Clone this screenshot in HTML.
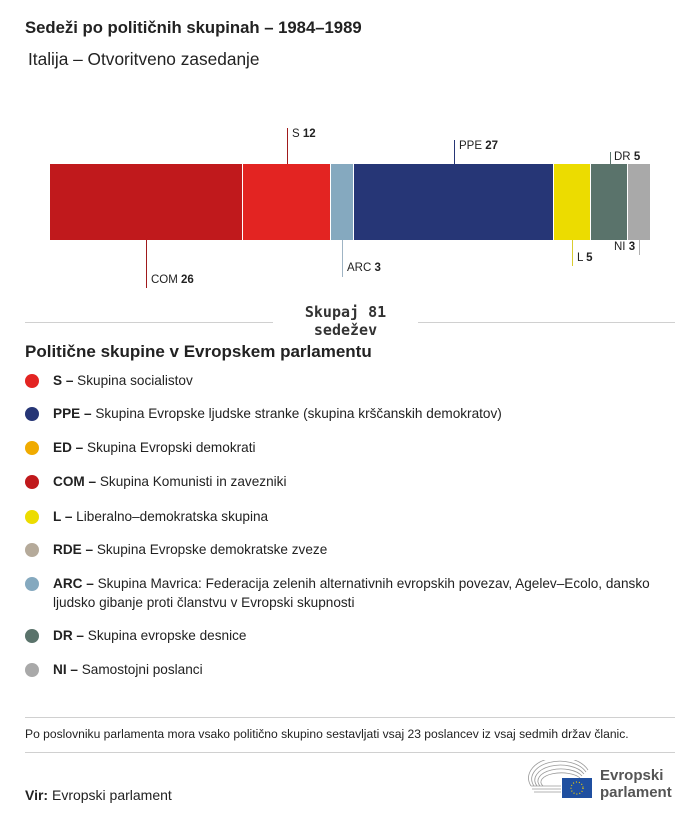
<!DOCTYPE html>
<html>
<head>
<meta charset="utf-8">
<style>
  html,body{margin:0;padding:0;background:#fff;}
  body{width:700px;height:820px;position:relative;overflow:hidden;font-family:"Liberation Sans","DejaVu Sans",sans-serif;color:#222;}
  .abs{position:absolute;white-space:nowrap;}
  .seg{position:absolute;top:164px;height:76px;}
  .vl{position:absolute;width:1px;}
  .lbl{position:absolute;font-size:11.5px;color:#222;white-space:nowrap;line-height:12px;}
  .lbl b{font-weight:bold;}
  .dot{position:absolute;left:25px;width:14px;height:14px;border-radius:50%;}
  .lt{position:absolute;left:53px;font-size:13.6px;line-height:19px;color:#222;white-space:nowrap;}
  .lt b{font-weight:bold;}
  .hr{position:absolute;height:1px;background:#d0d0d0;}
</style>
</head>
<body>
<div class="abs" style="left:25px;top:18px;font-size:16.7px;font-weight:bold;color:#222;">Sedeži po političnih skupinah – 1984–1989</div>
<div class="abs" style="left:28px;top:49px;font-size:17.3px;color:#222;">Italija – Otvoritveno zasedanje</div>

<!-- bar -->
<div class="seg" style="left:50px;width:192px;background:#c0191c;"></div>
<div class="seg" style="left:243px;width:87px;background:#e32422;"></div>
<div class="seg" style="left:331px;width:22px;background:#85a9bf;"></div>
<div class="seg" style="left:354px;width:199px;background:#263676;"></div>
<div class="seg" style="left:554px;width:36px;background:#ecdc00;"></div>
<div class="seg" style="left:591px;width:36px;background:#5a736b;"></div>
<div class="seg" style="left:628px;width:22px;background:#a9a9a9;"></div>

<!-- leader lines & labels -->
<div class="vl" style="left:287px;top:128px;height:36px;background:#a01a1c;"></div>
<div class="lbl" style="left:292px;top:128px;">S <b>12</b></div>

<div class="vl" style="left:146px;top:240px;height:48px;background:#a01a1c;"></div>
<div class="lbl" style="left:151px;top:274px;">COM <b>26</b></div>

<div class="vl" style="left:342px;top:240px;height:37px;background:#9fb4c4;"></div>
<div class="lbl" style="left:347px;top:262px;">ARC <b>3</b></div>

<div class="vl" style="left:454px;top:140px;height:24px;background:#263676;"></div>
<div class="lbl" style="left:459px;top:140px;">PPE <b>27</b></div>

<div class="vl" style="left:610px;top:152px;height:12px;background:#5a736b;"></div>
<div class="lbl" style="left:614px;top:151px;">DR <b>5</b></div>

<div class="vl" style="left:572px;top:240px;height:26px;background:#d9cc30;"></div>
<div class="lbl" style="left:577px;top:252px;">L <b>5</b></div>

<div class="vl" style="left:639px;top:240px;height:15px;background:#b0b0b0;"></div>
<div class="lbl" style="left:614px;top:241px;">NI <b>3</b></div>

<!-- total -->
<div class="hr" style="left:25px;top:322px;width:248px;"></div>
<div class="hr" style="left:418px;top:322px;width:257px;"></div>
<div class="abs" style="left:273px;width:145px;top:303px;text-align:center;font-family:'DejaVu Sans Mono','Liberation Mono',monospace;font-weight:bold;font-size:15px;line-height:18px;color:#333;">Skupaj 81<br>sedežev</div>

<div class="abs" style="left:25px;top:342px;font-size:17px;font-weight:bold;color:#222;">Politične skupine v Evropskem parlamentu</div>

<!-- legend -->
<div class="dot" style="top:374px;background:#e32422;"></div>
<div class="lt" style="top:371px;"><b>S –</b> Skupina socialistov</div>
<div class="dot" style="top:407px;background:#263676;"></div>
<div class="lt" style="top:404px;"><b>PPE –</b> Skupina Evropske ljudske stranke (skupina krščanskih demokratov)</div>
<div class="dot" style="top:441px;background:#f0ab00;"></div>
<div class="lt" style="top:438px;"><b>ED –</b> Skupina Evropski demokrati</div>
<div class="dot" style="top:475px;background:#c0191c;"></div>
<div class="lt" style="top:472px;"><b>COM –</b> Skupina Komunisti in zavezniki</div>
<div class="dot" style="top:510px;background:#ecdc00;"></div>
<div class="lt" style="top:507px;"><b>L –</b> Liberalno–demokratska skupina</div>
<div class="dot" style="top:543px;background:#b5aa9a;"></div>
<div class="lt" style="top:540px;"><b>RDE –</b> Skupina Evropske demokratske zveze</div>
<div class="dot" style="top:577px;background:#85a9bf;"></div>
<div class="lt" style="top:574px;"><b>ARC –</b> Skupina Mavrica: Federacija zelenih alternativnih evropskih povezav, Agelev–Ecolo, dansko<br>ljudsko gibanje proti članstvu v Evropski skupnosti</div>
<div class="dot" style="top:629px;background:#5a736b;"></div>
<div class="lt" style="top:626px;"><b>DR –</b> Skupina evropske desnice</div>
<div class="dot" style="top:663px;background:#a9a9a9;"></div>
<div class="lt" style="top:660px;"><b>NI –</b> Samostojni poslanci</div>

<!-- footer -->
<div class="hr" style="left:25px;top:717px;width:650px;"></div>
<div class="abs" style="left:25px;top:727px;font-size:12.1px;color:#222;">Po poslovniku parlamenta mora vsako politično skupino sestavljati vsaj 23 poslancev iz vsaj sedmih držav članic.</div>
<div class="hr" style="left:25px;top:752px;width:650px;"></div>
<div class="abs" style="left:25px;top:787px;font-size:14px;color:#222;"><b>Vir:</b> Evropski parlament</div>

<!-- logo -->
<svg class="abs" style="left:528px;top:760px;" width="66" height="40" viewBox="0 0 66 40">
  <g fill="none" stroke="#9a9a9a" stroke-width="0.8">
    <path d="M3 26 A30 20 0 0 1 60 10"/>
    <path d="M6 26 A27 17 0 0 1 58 12"/>
    <path d="M9 26 A24 14 0 0 1 56 14"/>
    <path d="M12 26 A21 11 0 0 1 54 16"/>
    <path d="M15 26 A18 8 0 0 1 52 18"/>
    <path d="M3 26 L33 26"/>
    <path d="M4 29 L33 29"/>
    <path d="M6 32 L33 32"/>
  </g>
  <rect x="34" y="18" width="30" height="20" fill="#1f4fa0"/>
  <circle cx="49" cy="28" r="6" fill="none" stroke="#f5d200" stroke-width="1.2" stroke-dasharray="1 2"/>
</svg>
<div class="abs" style="left:600px;top:767px;font-size:15px;font-weight:bold;color:#555;line-height:17px;">Evropski<br>parlament</div>
</body>
</html>
